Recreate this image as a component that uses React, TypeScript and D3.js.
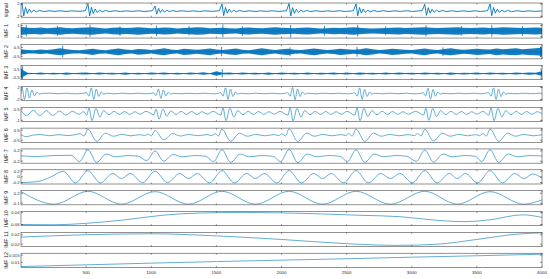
import React from "react";
import * as d3 from "d3";

type P = [number, number];

const panelNames = ["signal", "IMF 1", "IMF 2", "IMF 3", "IMF 4", "IMF 5", "IMF 6", "IMF 7", "IMF 8", "IMF 9", "IMF 10", "IMF 11", "IMF 12"];
const panelDomains: [number, number][] = [
  [-2.3, 2.3], [-1.3, 1.3], [-0.8, 0.8], [-0.7, 0.9], [-2.4, 2.4], [-1.15, 0.75], [-0.7, 0.7],
  [-0.28, 0.28], [-0.25, 0.25], [-0.15, 0.28], [-0.07, 0.05], [-0.03, 0.03], [0.0064, 0.0164],
];
const panelTicks: number[][] = [
  [-2, 2], [-1, 1], [-0.5, 0.5], [-0.5, 0.5], [-2, 2], [-1, 0.5], [-0.5, 0.5],
  [-0.2, 0.2], [-0.2, 0, 0.2], [-0.1, 0.2], [-0.06, 0.04], [-0.02, 0.02], [0.01, 0.015],
];
const xTicks = [500, 1000, 1500, 2000, 2500, 3000, 3500, 4000];

// signal: [sample, value]
const signalPts: P[] = [
  [0, 1.6], [8, 2.1], [21, -1.9], [35, 0.9], [49, -1.1], [64, 0.35], [80, -0.8], [98, 0.0], [118, -0.55], [143, -0.1], [173, -0.5], [215, -0.2], [255, -0.42], [300, -0.22], [345, -0.45], [390, -0.25], [435, -0.4], [475, -0.28], [494, -0.2],
  [514, 2.1], [527, -1.9], [541, 0.9], [555, -1.1], [570, 0.35], [586, -0.8], [604, 0.0], [624, -0.55], [649, -0.1], [679, -0.5], [720, -0.2], [765, -0.45], [810, -0.25], [855, -0.42], [900, -0.22], [945, -0.44], [990, -0.28], [1009, -0.2],
  [1029, 1.3], [1042, -1.3], [1056, 0.6], [1070, -0.8], [1085, 0.2], [1101, -0.65], [1119, -0.05], [1139, -0.5], [1164, -0.15], [1194, -0.45], [1235, -0.22], [1280, -0.42], [1325, -0.25], [1370, -0.45], [1415, -0.22], [1460, -0.4], [1505, -0.28], [1523, -0.2],
  [1543, 2.0], [1556, -1.8], [1570, 0.85], [1584, -1.0], [1599, 0.3], [1615, -0.75], [1633, 0.0], [1653, -0.55], [1678, -0.1], [1708, -0.5], [1750, -0.2], [1795, -0.45], [1840, -0.25], [1885, -0.42], [1930, -0.22], [1975, -0.44], [2020, -0.28], [2038, -0.2],
  [2058, 2.1], [2071, -1.9], [2085, 0.8], [2099, -1.05], [2114, 0.3], [2130, -0.8], [2148, 0.0], [2168, -0.55], [2193, -0.1], [2223, -0.5], [2265, -0.2], [2310, -0.45], [2355, -0.25], [2400, -0.42], [2445, -0.22], [2490, -0.44], [2535, -0.28], [2552, -0.2],
  [2572, 2.0], [2585, -1.85], [2599, 0.85], [2613, -1.0], [2628, 0.35], [2644, -0.8], [2662, 0.0], [2682, -0.55], [2707, -0.1], [2737, -0.5], [2780, -0.2], [2825, -0.45], [2870, -0.25], [2915, -0.42], [2960, -0.22], [3005, -0.44], [3050, -0.28], [3080, -0.2],
  [3100, 1.9], [3113, -1.7], [3127, 0.8], [3141, -1.0], [3156, 0.3], [3172, -0.75], [3190, 0.0], [3210, -0.55], [3235, -0.1], [3265, -0.5], [3305, -0.2], [3350, -0.45], [3395, -0.25], [3440, -0.42], [3485, -0.22], [3530, -0.44], [3565, -0.28], [3582, -0.2],
  [3601, 2.0], [3614, -1.8], [3628, 0.85], [3642, -1.0], [3657, 0.3], [3673, -0.8], [3691, 0.0], [3711, -0.55], [3736, -0.1], [3766, -0.5], [3810, -0.2], [3855, -0.45], [3900, -0.25], [3945, -0.42], [3990, -0.3], [4000, -0.3],
];

// noisy IMFs: envelope amplitude every 50 samples, plus spikes [sample, hi, lo]
const imf1Amp = [
  0.75, 0.6, 0.55, 0.65, 0.5, 0.6, 0.7, 0.55, 0.5, 0.6,
  0.65, 0.7, 0.55, 0.45, 0.6, 0.65, 0.55, 0.6, 0.7, 0.6,
  0.5, 0.55, 0.65, 0.6, 0.45, 0.55, 0.6, 0.7, 0.65, 0.5,
  0.55, 0.6, 0.5, 0.45, 0.6, 0.65, 0.55, 0.5, 0.6, 0.7,
  0.6, 0.55, 0.5, 0.6, 0.65, 0.55, 0.45, 0.5, 0.6, 0.55,
  0.6, 0.7, 0.6, 0.5, 0.45, 0.5, 0.55, 0.6, 0.65, 0.55,
  0.6, 0.65, 0.7, 0.6, 0.55, 0.6, 0.65, 0.7, 0.6, 0.55,
  0.6, 0.65, 0.55, 0.6, 0.7, 0.65, 0.6, 0.55, 0.6, 0.65, 0.6,
];
const imf1Spikes: [number, number, number][] = [
  [40, 1.1, -1.0], [280, 0.9, -0.85], [530, 1.15, -1.1], [760, 0.85, -0.9], [1040, 1.0, -0.95], [1290, 0.9, -0.8],
  [1550, 1.2, -1.15], [1700, 0.85, -0.9], [2070, 1.1, -1.2], [2330, 0.9, -0.85], [2585, 1.1, -1.0], [2800, 0.85, -0.8],
  [3110, 1.05, -1.0], [3380, 0.9, -0.85], [3615, 1.1, -1.05], [3850, 0.9, -0.9],
];
const imf2Amp = [
  0.3, 0.2, 0.18, 0.25, 0.2, 0.3, 0.4, 0.28, 0.2, 0.18,
  0.25, 0.35, 0.22, 0.18, 0.3, 0.38, 0.25, 0.2, 0.32, 0.28,
  0.2, 0.3, 0.4, 0.25, 0.2, 0.35, 0.3, 0.22, 0.3, 0.38,
  0.25, 0.2, 0.3, 0.36, 0.22, 0.18, 0.3, 0.4, 0.28, 0.2,
  0.3, 0.35, 0.22, 0.2, 0.3, 0.38, 0.28, 0.2, 0.25, 0.35,
  0.3, 0.22, 0.28, 0.4, 0.3, 0.2, 0.25, 0.35, 0.3, 0.22,
  0.2, 0.3, 0.38, 0.25, 0.2, 0.32, 0.4, 0.3, 0.22, 0.28,
  0.35, 0.3, 0.25, 0.38, 0.3, 0.35, 0.4, 0.3, 0.35, 0.4, 0.45,
];
const imf2Spikes: [number, number, number][] = [
  [320, 0.7, -0.65], [1540, 0.55, -0.5], [2065, 0.5, -0.5], [2580, 0.55, -0.55], [3240, 0.5, -0.45], [3990, 0.6, -0.6],
];
const imf3Amp = [
  0.5, 0.08, 0.04, 0.12, 0.04, 0.1, 0.04, 0.13, 0.04, 0.08,
  0.11, 0.04, 0.12, 0.05, 0.1, 0.04, 0.13, 0.04, 0.1, 0.04,
  0.12, 0.05, 0.11, 0.04, 0.1, 0.04, 0.12, 0.05, 0.15, 0.04,
  0.26, 0.08, 0.12, 0.04, 0.11, 0.05, 0.1, 0.04, 0.13, 0.04,
  0.12, 0.05, 0.1, 0.04, 0.11, 0.04, 0.1, 0.05, 0.12, 0.04,
  0.11, 0.04, 0.13, 0.05, 0.1, 0.04, 0.12, 0.04, 0.11, 0.05,
  0.1, 0.04, 0.12, 0.05, 0.1, 0.04, 0.13, 0.04, 0.1, 0.05,
  0.12, 0.04, 0.11, 0.05, 0.1, 0.04, 0.12, 0.05, 0.13, 0.08, 0.26,
];
const imf3Spikes: [number, number, number][] = [
  [10, 0.85, -0.65], [1545, 0.5, -0.45], [3995, 0.4, -0.4],
];

const imf4Pts: P[] = [
  [0, 0], [8, 1.8], [27, -2.0], [46, 1.9], [65, -1.5], [84, 1.2], [103, -0.8], [122, 0.45], [141, -0.2], [165, 0.05], [230, 0.1], [290, -0.08], [350, 0.1], [410, -0.1], [470, 0.05],
  [502, 0.3], [521, -0.9], [540, 1.9], [559, -2.0], [578, 1.5], [597, -1.0], [616, 0.55], [635, -0.25], [655, 0.08], [720, -0.1], [780, 0.1], [840, -0.08], [900, 0.1], [960, -0.1], [1000, 0.05],
  [1017, 0.25], [1036, -0.7], [1055, 1.5], [1074, -1.6], [1093, 1.2], [1112, -0.8], [1131, 0.45], [1150, -0.2], [1170, 0.06], [1230, -0.1], [1290, 0.1], [1350, -0.08], [1410, 0.1], [1470, -0.1], [1515, 0.05],
  [1532, 0.3], [1551, -0.9], [1570, 1.9], [1589, -2.0], [1608, 1.5], [1627, -1.0], [1646, 0.55], [1665, -0.25], [1685, 0.08], [1745, -0.1], [1805, 0.1], [1865, -0.08], [1925, 0.1], [1985, -0.1], [2030, 0.05],
  [2047, 0.3], [2066, -0.95], [2085, 2.0], [2104, -2.1], [2123, 1.5], [2142, -1.0], [2161, 0.5], [2180, -0.25], [2200, 0.08], [2260, -0.1], [2320, 0.1], [2380, -0.08], [2440, 0.1], [2500, -0.1], [2545, 0.05],
  [2562, 0.3], [2581, -0.9], [2600, 1.9], [2619, -2.0], [2638, 1.45], [2657, -1.0], [2676, 0.5], [2695, -0.25], [2715, 0.08], [2775, -0.1], [2835, 0.1], [2895, -0.08], [2955, 0.1], [3015, -0.1], [3070, 0.05],
  [3087, 0.3], [3106, -0.85], [3125, 1.8], [3144, -1.9], [3163, 1.4], [3182, -0.95], [3201, 0.5], [3220, -0.22], [3240, 0.08], [3300, -0.1], [3360, 0.1], [3420, -0.08], [3480, 0.1], [3540, -0.1], [3590, 0.3],
  [3609, -0.9], [3628, 1.9], [3647, -2.0], [3666, 1.5], [3685, -1.0], [3704, 0.55], [3723, -0.25], [3743, 0.08], [3800, -0.1], [3860, 0.1], [3920, -0.08], [3980, 0.1], [4000, 0.0],
];

const imf5Pts: P[] = [
  [0, 0.3], [45, -0.35], [95, 0.35], [145, -0.4], [195, 0.3], [245, -0.35], [295, 0.25], [345, -0.3], [395, 0.2], [445, -0.2], [480, 0.15],
  [505, -0.3], [522, 0.65], [545, -1.05], [575, 0.6], [605, -0.55], [635, 0.3], [675, -0.25], [715, 0.2], [755, -0.22], [795, 0.18], [835, -0.2], [875, 0.15], [915, -0.18], [960, 0.2],
  [1020, -0.25], [1037, 0.5], [1060, -0.85], [1090, 0.5], [1120, -0.45], [1150, 0.25], [1190, -0.22], [1230, 0.2], [1270, -0.2], [1310, 0.18], [1350, -0.22], [1390, 0.15], [1430, -0.18], [1475, 0.2],
  [1534, -0.3], [1551, 0.65], [1574, -1.05], [1604, 0.62], [1634, -0.55], [1664, 0.3], [1704, -0.25], [1744, 0.2], [1784, -0.22], [1824, 0.18], [1864, -0.2], [1904, 0.15], [1944, -0.18], [1989, 0.2],
  [2049, -0.3], [2066, 0.68], [2089, -1.08], [2119, 0.6], [2149, -0.55], [2179, 0.3], [2219, -0.25], [2259, 0.2], [2299, -0.22], [2339, 0.18], [2379, -0.2], [2419, 0.15], [2459, -0.18], [2504, 0.2],
  [2563, -0.3], [2580, 0.65], [2603, -1.05], [2633, 0.6], [2663, -0.5], [2693, 0.3], [2733, -0.25], [2773, 0.2], [2813, -0.22], [2853, 0.18], [2893, -0.2], [2933, 0.15], [2973, -0.18], [3030, 0.2],
  [3091, -0.3], [3108, 0.62], [3131, -1.0], [3161, 0.58], [3191, -0.5], [3221, 0.3], [3261, -0.25], [3301, 0.2], [3341, -0.22], [3381, 0.18], [3421, -0.2], [3461, 0.15], [3501, -0.18], [3546, 0.2],
  [3592, -0.3], [3609, 0.65], [3632, -1.05], [3662, 0.6], [3692, -0.55], [3722, 0.3], [3762, -0.25], [3802, 0.2], [3842, -0.22], [3882, 0.18], [3922, -0.2], [3962, 0.15], [4000, -0.1],
];

const imf6Pts: P[] = [
  [0, 0.05], [40, -0.15], [90, 0.0], [150, 0.06], [220, -0.05], [290, 0.05], [360, -0.04], [410, 0.04],
  [453, 0.15], [484, -0.08], [514, 0.6], [581, -0.6], [649, 0.2], [709, -0.1], [774, 0.08], [844, -0.06], [914, 0.06], [950, -0.04],
  [975, 0.12], [1000, -0.06], [1029, 0.45], [1096, -0.45], [1164, 0.15], [1224, -0.08], [1289, 0.07], [1359, -0.05], [1429, 0.06], [1465, -0.04],
  [1490, 0.15], [1515, -0.08], [1543, 0.6], [1610, -0.6], [1678, 0.2], [1738, -0.1], [1803, 0.08], [1873, -0.06], [1943, 0.06], [1980, -0.04],
  [2003, 0.15], [2029, -0.08], [2058, 0.62], [2125, -0.62], [2193, 0.2], [2253, -0.1], [2318, 0.08], [2388, -0.06], [2458, 0.06], [2492, -0.04],
  [2515, 0.15], [2543, -0.08], [2572, 0.6], [2639, -0.6], [2707, 0.2], [2767, -0.1], [2832, 0.08], [2902, -0.06], [2972, 0.06], [3020, -0.04],
  [3045, 0.15], [3072, -0.08], [3100, 0.58], [3167, -0.58], [3235, 0.2], [3295, -0.1], [3360, 0.08], [3430, -0.06], [3490, 0.06], [3522, -0.04],
  [3545, 0.15], [3572, -0.08], [3601, 0.6], [3668, -0.6], [3736, 0.2], [3796, -0.1], [3861, 0.08], [3931, -0.06], [4000, 0.05],
];

const imf7Pts: P[] = [
  [0, 0.01], [120, -0.02], [250, 0.02], [384, 0.03],
  [449, -0.22], [514, 0.25], [581, -0.25], [654, 0.08], [724, -0.03], [814, 0.02], [904, -0.01],
  [964, -0.18], [1029, 0.2], [1096, -0.2], [1169, 0.06], [1239, -0.03], [1329, 0.02], [1419, -0.01],
  [1478, -0.22], [1543, 0.25], [1610, -0.25], [1683, 0.08], [1753, -0.03], [1843, 0.02], [1933, -0.01],
  [1993, -0.22], [2058, 0.26], [2125, -0.26], [2198, 0.08], [2268, -0.03], [2358, 0.02], [2448, -0.01],
  [2507, -0.22], [2572, 0.25], [2639, -0.25], [2712, 0.08], [2782, -0.03], [2872, 0.02], [2962, -0.01],
  [3035, -0.21], [3100, 0.24], [3167, -0.24], [3240, 0.08], [3310, -0.03], [3400, 0.02], [3490, -0.01],
  [3536, -0.22], [3601, 0.25], [3668, -0.25], [3741, 0.08], [3811, -0.03], [3901, 0.02], [4000, 0.0],
];

const imf8Pts: P[] = [
  [0, -0.2], [120, -0.17], [230, 0.0], [324, 0.2], [419, -0.21], [514, 0.22], [609, -0.21], [704, 0.12], [771, -0.06], [839, 0.12],
  [934, -0.2], [1029, 0.2], [1124, -0.2], [1219, 0.12], [1286, -0.06], [1353, 0.12], [1448, -0.21], [1543, 0.22], [1638, -0.21],
  [1733, 0.12], [1800, -0.06], [1868, 0.12], [1963, -0.21], [2058, 0.22], [2153, -0.21], [2248, 0.12], [2315, -0.06], [2382, 0.12],
  [2477, -0.21], [2572, 0.22], [2667, -0.21], [2762, 0.12], [2836, -0.06], [2910, 0.12], [3005, -0.21], [3100, 0.22], [3195, -0.21],
  [3290, 0.12], [3350, -0.06], [3411, 0.12], [3506, -0.21], [3601, 0.22], [3696, -0.21], [3791, 0.12], [3860, -0.06], [3930, 0.1], [4000, -0.05],
];

const imf9Pts: P[] = [
  [0, 0.25], [257, -0.13], [514, 0.26], [771, -0.13], [1029, 0.25], [1286, -0.13], [1543, 0.26], [1800, -0.13], [2058, 0.26],
  [2315, -0.13], [2572, 0.26], [2836, -0.13], [3100, 0.26], [3350, -0.13], [3601, 0.25], [3860, -0.13], [4000, 0.0],
];

const imf10Pts: P[] = [
  [0, -0.06], [250, -0.062], [500, -0.05], [800, -0.02], [1100, 0.02], [1400, 0.038], [1700, 0.042], [2000, 0.038],
  [2300, 0.03], [2600, 0.018], [2900, 0.007], [3200, -0.025], [3400, -0.036], [3600, -0.02], [3850, 0.022], [4000, 0.0],
];

const imf11Pts: P[] = [
  [0, 0.01], [500, 0.02], [1000, 0.024], [1500, 0.015], [2000, 0.0], [2500, -0.018], [2900, -0.025], [3200, -0.02],
  [3500, 0.0], [3800, 0.022], [4000, 0.028],
];

const imf12Pts: P[] = [
  [0, 0.007], [500, 0.0082], [1000, 0.0094], [1500, 0.0105], [2000, 0.0115], [2500, 0.0125], [3000, 0.0136], [3500, 0.0146], [4000, 0.0157],
];

const lineSeries: { [k: number]: P[] } = {
  0: signalPts, 4: imf4Pts, 5: imf5Pts, 6: imf6Pts, 7: imf7Pts, 8: imf8Pts,
  9: imf9Pts, 10: imf10Pts, 11: imf11Pts, 12: imf12Pts,
};
const bandSeries: { [k: number]: { amp: number[]; spikes: [number, number, number][] } } = {
  1: { amp: imf1Amp, spikes: imf1Spikes },
  2: { amp: imf2Amp, spikes: imf2Spikes },
  3: { amp: imf3Amp, spikes: imf3Spikes },
};

const DARK = "#0072BD";
const LIGHT = "#2f93c6";
const AXIS = "#262626";
const FONT = "'Liberation Sans', Arial, sans-serif";

export default function App() {
  const width = 550;
  const height = 279;
  const left = 21;
  const right = 542;
  const top0 = 3;
  const step = 20.85;
  const ph = 14.2;

  const x = d3.scaleLinear().domain([0, 4000]).range([left, right]);

  return (
    <svg width={width} height={height} style={{ position: "absolute", left: 0, top: 0, background: "white" }}>
      <defs>
        <clipPath id="plotclip">
          <rect x={left} y={0} width={right - left} height={ph} />
        </clipPath>
      </defs>
      {panelNames.map((name, i) => {
        const y = d3.scaleLinear().domain(panelDomains[i]).range([ph, 0]);
        const ty = top0 + i * step;
        const isDark = i <= 2;
        const band = bandSeries[i];
        const pts = lineSeries[i];
        let content: React.ReactNode = null;
        if (pts) {
          const gen = d3
            .line<P>()
            .x((d) => x(d[0]))
            .y((d) => y(d[1]))
            .curve(i === 0 ? d3.curveLinear : d3.curveMonotoneX);
          content = (
            <path d={gen(pts) || ""} fill="none" stroke={isDark ? DARK : LIGHT} strokeWidth={i === 0 ? 0.9 : 0.75} strokeLinejoin="round" />
          );
        } else if (band) {
          const area = d3
            .area<number>()
            .x((_, k) => x(k * 50))
            .y0((d) => y(-d))
            .y1((d) => y(d))
            .curve(d3.curveLinear);
          content = (
            <g>
              <path d={area(band.amp) || ""} fill={DARK} opacity={0.92} />
              <line x1={x(0)} x2={x(4000)} y1={y(0)} y2={y(0)} stroke={DARK} strokeWidth={0.8} />
              {band.spikes.map((s, k) => (
                <line key={k} x1={x(s[0])} x2={x(s[0])} y1={y(s[1])} y2={y(s[2])} stroke={DARK} strokeWidth={0.8} />
              ))}
            </g>
          );
        }
        return (
          <g key={name} transform={`translate(0,${ty})`}>
            <g clipPath="url(#plotclip)">{content}</g>
            <rect x={left} y={0} width={right - left} height={ph} fill="none" stroke={AXIS} strokeWidth={0.5} />
            {xTicks.map((t) => (
              <g key={t}>
                <line x1={x(t)} x2={x(t)} y1={ph} y2={ph - 1.5} stroke={AXIS} strokeWidth={0.5} />
                <line x1={x(t)} x2={x(t)} y1={0} y2={1.5} stroke={AXIS} strokeWidth={0.5} />
              </g>
            ))}
            {panelTicks[i].map((t) => (
              <g key={t}>
                <line x1={left} x2={left + 2} y1={y(t)} y2={y(t)} stroke={AXIS} strokeWidth={0.5} />
                <line x1={right} x2={right - 2} y1={y(t)} y2={y(t)} stroke={AXIS} strokeWidth={0.5} />
                <text x={left - 1.5} y={y(t)} dy="0.35em" textAnchor="end" fontSize={4.2} fontFamily={FONT} fill={AXIS}>
                  {String(t)}
                </text>
              </g>
            ))}
            <text
              transform={`translate(6.5,${ph / 2}) rotate(-90)`}
              textAnchor="middle"
              dy="0.35em"
              fontSize={5.4}
              fontFamily={FONT}
              fill={AXIS}
            >
              {name}
            </text>
            {i === panelNames.length - 1 &&
              xTicks.map((t) => (
                <text key={t} x={x(t)} y={ph + 6.3} textAnchor="middle" fontSize={4.4} fontFamily={FONT} fill={AXIS}>
                  {t}
                </text>
              ))}
          </g>
        );
      })}
    </svg>
  );
}
